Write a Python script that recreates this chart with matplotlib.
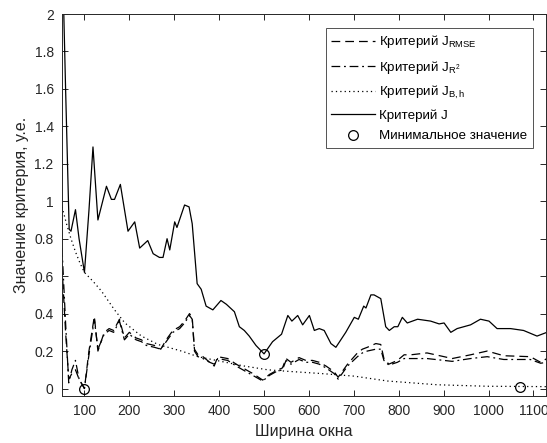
import matplotlib
matplotlib.use("Agg")
import matplotlib.pyplot as plt

plt.rcParams['font.family'] = ['Liberation Sans', 'DejaVu Sans']
plt.rcParams['mathtext.fontset'] = 'custom'
plt.rcParams['mathtext.rm'] = 'Liberation Sans'
plt.rcParams['mathtext.it'] = 'Liberation Sans:italic'

# ---- data ----
x_J = [50, 58, 66, 70, 80, 88, 100, 110, 119, 130, 149, 160, 167, 180, 197, 212, 223, 241,
       253, 267, 275, 284, 290, 301, 306, 323, 333, 340, 351, 360, 371, 386, 404, 416, 434,
       445, 456, 467, 482, 500, 519, 539, 553, 562, 575, 586, 601, 612, 623, 634, 649, 660,
       682, 701, 710, 722, 727, 738, 745, 760, 771, 779, 790, 798, 808, 819, 842, 871, 890,
       901, 916, 930, 960, 982, 1001, 1019, 1049, 1078, 1108, 1130]
J = [2.4, 1.6, 0.85, 0.84, 0.955, 0.8, 0.62, 0.95, 1.29, 0.90, 1.08, 1.01, 1.01, 1.09, 0.84,
     0.89, 0.75, 0.79, 0.72, 0.70, 0.70, 0.80, 0.74, 0.89, 0.86, 0.98, 0.97, 0.88, 0.56, 0.53,
     0.44, 0.42, 0.47, 0.45, 0.41, 0.33, 0.31, 0.28, 0.23, 0.185, 0.25, 0.29, 0.39, 0.36, 0.39,
     0.34, 0.39, 0.31, 0.32, 0.31, 0.24, 0.22, 0.30, 0.38, 0.37, 0.44, 0.43, 0.50, 0.50, 0.48,
     0.33, 0.31, 0.33, 0.33, 0.38, 0.35, 0.37, 0.36, 0.345, 0.35, 0.30, 0.32, 0.34, 0.37, 0.36,
     0.32, 0.32, 0.31, 0.28, 0.30]

x_B = [50, 60, 70, 80, 90, 100, 120, 138, 167, 190, 227, 264, 316, 353, 404, 456, 508, 552,
       627, 701, 775, 886, 997, 1130]
B = [0.97, 0.88, 0.80, 0.73, 0.67, 0.62, 0.57, 0.52, 0.42, 0.35, 0.28, 0.235, 0.20, 0.17,
     0.145, 0.12, 0.10, 0.092, 0.08, 0.066, 0.04, 0.02, 0.012, 0.01]

x_R = [50, 58, 65, 72, 80, 88, 100, 110, 122, 130, 144, 155, 165, 178, 189, 200, 215, 227,
       238, 256, 270, 282, 297, 312, 323, 334, 340, 345, 353, 364, 379, 389, 397, 419, 438,
       460, 475, 497, 512, 527, 541, 549, 560, 578, 593, 608, 623, 638, 656, 665, 686, 708,
       719, 730, 749, 760, 767, 778, 797, 812, 827, 863, 901, 919, 960, 997, 1034, 1093,
       1116, 1130]
RMSE = [0.65, 0.30, 0.05, 0.08, 0.10, 0.05, 0.0, 0.20, 0.385, 0.20, 0.30, 0.32, 0.31, 0.37,
        0.27, 0.30, 0.27, 0.26, 0.24, 0.23, 0.21, 0.26, 0.31, 0.33, 0.36, 0.40, 0.38, 0.21,
        0.18, 0.17, 0.14, 0.12, 0.17, 0.16, 0.13, 0.10, 0.08, 0.045, 0.075, 0.095, 0.11, 0.16,
        0.14, 0.165, 0.15, 0.15, 0.14, 0.12, 0.09, 0.06, 0.13, 0.19, 0.21, 0.22, 0.24, 0.235,
        0.16, 0.13, 0.15, 0.18, 0.18, 0.19, 0.17, 0.16, 0.18, 0.20, 0.175, 0.17, 0.14, 0.16]
R2 = [0.75, 0.35, 0.03, 0.10, 0.15, 0.05, 0.0, 0.18, 0.37, 0.21, 0.29, 0.31, 0.30, 0.36,
      0.26, 0.29, 0.26, 0.25, 0.23, 0.22, 0.21, 0.25, 0.30, 0.32, 0.35, 0.39, 0.37, 0.20,
      0.17, 0.16, 0.14, 0.13, 0.16, 0.15, 0.12, 0.09, 0.07, 0.04, 0.07, 0.09, 0.10, 0.15,
      0.13, 0.155, 0.14, 0.14, 0.13, 0.11, 0.08, 0.05, 0.12, 0.17, 0.19, 0.20, 0.21, 0.21,
      0.15, 0.125, 0.14, 0.16, 0.16, 0.16, 0.15, 0.145, 0.16, 0.17, 0.155, 0.155, 0.135, 0.14]

min_x = [100, 500, 1070]
min_y = [0.0, 0.185, 0.01]

labels = ['Критерий J$_{\\mathrm{RMSE}}$', 'Критерий J$_{\\mathrm{R}^2}$',
          'Критерий J$_{\\mathrm{B,h}}$', 'Критерий J', 'Минимальное значение']

xticks = [100, 200, 300, 400, 500, 600, 700, 800, 900, 1000, 1100]
yticks = [0, 0.2, 0.4, 0.6, 0.8, 1, 1.2, 1.4, 1.6, 1.8, 2]
ytick_labels = ['0', '0.2', '0.4', '0.6', '0.8', '1', '1.2', '1.4', '1.6', '1.8', '2']

# ---- figure ----
W, H = 547, 443
fig = plt.figure(figsize=(W / 100, H / 100), dpi=100)
ax = fig.add_axes([62 / W, 47 / H, (546 - 62) / W, (396 - 14) / H])

gray = '#262626'
lw = 0.9
ax.plot(x_R, RMSE, color='k', lw=lw, dashes=(7, 4), label=labels[0])
ax.plot(x_R, R2, color='k', lw=lw, dashes=(7, 3, 1.5, 3), label=labels[1])
ax.plot(x_B, B, color='k', lw=lw, dashes=(1, 2.5), label=labels[2])
ax.plot(x_J, J, color='k', lw=lw, label=labels[3])
ax.plot(min_x, min_y, 'o', mfc='none', mec='k', ms=7, mew=0.9, label=labels[4],
        linestyle='none')

ax.set_xlim(50, 1128)
ax.set_ylim(-0.04, 2)
ax.set_xticks(xticks)
ax.set_yticks(yticks)
ax.set_yticklabels(ytick_labels)
ax.tick_params(direction='in', top=True, right=True, length=4, width=0.7,
               labelsize=10, colors=gray, pad=6)
for s in ax.spines.values():
    s.set_color(gray)
    s.set_linewidth(0.7)

ax.set_xlabel('Ширина окна', fontsize=11.5, color=gray, labelpad=4)
ax.set_ylabel('Значение критерия, у.е.', fontsize=11.5, color=gray, labelpad=4)

leg = ax.legend(loc='upper right', bbox_to_anchor=(0.973, 0.963), fontsize=9.6,
                handlelength=3.3, handletextpad=0.3, labelspacing=0.62,
                borderpad=0.4, frameon=True, fancybox=False, borderaxespad=0)
leg.get_frame().set_edgecolor(gray)
leg.get_frame().set_linewidth(0.7)
for t in leg.get_texts():
    t.set_color('k')

fig.savefig('out.png', dpi=100)
